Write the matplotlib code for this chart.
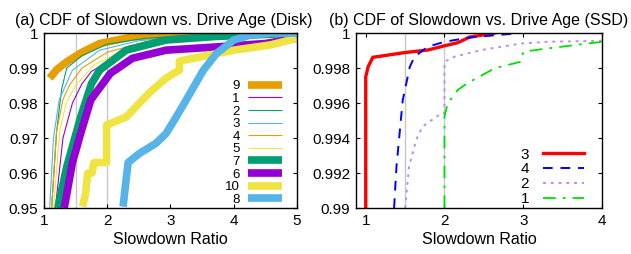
import numpy as np
import matplotlib
matplotlib.use("Agg")
import matplotlib.pyplot as plt

plt.rcParams['font.family'] = ['Liberation Sans', 'DejaVu Sans']

# ---- Disk: slowdown ratio (x) vs CDF (y) ----
disk_labels = ['9', '1', '2', '3', '4', '5', '7', '6', '10', '8']
disk_x = {
    '9': [1.09, 1.2, 1.36, 1.6, 1.88, 2.4, 2.93, 3.6, 4.5, 5.0],
    '1': [1.18, 1.3, 1.45, 1.6, 1.75, 2.2, 2.8, 3.6, 4.5, 5.0],
    '2': [1.12, 1.2, 1.28, 1.36, 1.6, 2.0, 2.6, 3.5, 5.0],
    '3': [1.09, 1.15, 1.24, 1.45, 1.88, 2.5, 3.5, 5.0],
    '4': [1.12, 1.2, 1.3, 1.4, 1.6, 2.0, 2.6, 3.5, 5.0],
    '5': [1.15, 1.25, 1.35, 1.5, 1.8, 2.2, 2.8, 3.6, 5.0],
    '7': [1.22, 1.36, 1.58, 1.75, 1.88, 2.3, 2.93, 3.7, 4.5, 5.0],
    '6': [1.32, 1.45, 1.58, 1.74, 2.05, 2.4, 2.93, 3.7, 4.5, 5.0],
    '10': [1.61, 1.66, 1.69, 1.76, 1.79, 1.99, 1.99, 2.3, 2.51, 2.67, 2.93,
           3.14, 3.14, 3.48, 4.0, 4.58, 5.0],
    '8': [2.25, 2.33, 2.51, 2.77, 2.93, 3.09, 3.31, 3.52, 3.73, 4.0, 4.26,
          4.6, 5.0],
}
disk_y = {
    '9': [0.9871, 0.9895, 0.9918, 0.9945, 0.9970, 0.9989, 0.9995, 0.9998, 0.9999, 1.0],
    '1': [0.950, 0.970, 0.980, 0.9855, 0.989, 0.994, 0.997, 0.9985, 0.9995, 1.0],
    '2': [0.950, 0.972, 0.984, 0.990, 0.9935, 0.9968, 0.9985, 0.9995, 1.0],
    '3': [0.950, 0.970, 0.9809, 0.9894, 0.9951, 0.9978, 0.9993, 1.0],
    '4': [0.950, 0.972, 0.981, 0.985, 0.990, 0.9945, 0.9975, 0.9992, 1.0],
    '5': [0.950, 0.972, 0.980, 0.985, 0.991, 0.9945, 0.9972, 0.999, 1.0],
    '7': [0.950, 0.9618, 0.976, 0.9855, 0.9894, 0.9951, 0.9980, 0.9990, 0.9996, 1.0],
    '6': [0.950, 0.963, 0.9713, 0.9809, 0.9885, 0.9928, 0.9951, 0.9960, 0.9970, 0.9985],
    '10': [0.9504, 0.9543, 0.9599, 0.9600, 0.963, 0.963, 0.9737, 0.976, 0.980,
           0.983, 0.9871, 0.9894, 0.992, 0.9932, 0.9951, 0.9966, 0.9985],
    '8': [0.9504, 0.963, 0.9656, 0.9685, 0.9713, 0.976, 0.9828, 0.9894,
          0.9942, 0.998, 0.9994, 1.0, 1.0],
}
disk_colors = {'9': '#e69f00', '1': '#9400d3', '2': '#009e73', '3': '#56b4e9',
               '4': '#e69f00', '5': '#f0e442', '7': '#009e73', '6': '#9400d3',
               '10': '#f0e442', '8': '#56b4e9'}
disk_thick = ['9', '7', '6', '10', '8']

# ---- SSD ----
ssd_labels = ['3', '4', '2', '1']
ssd_x = {
    '3': [1.0, 1.0, 1.03, 1.09, 1.49, 1.79, 2.0, 2.17, 2.32, 2.64],
    '4': [1.36, 1.39, 1.47, 1.56, 1.62, 1.79, 2.0, 2.33, 2.97],
    '2': [1.5, 1.55, 1.64, 1.72, 1.96, 2.0, 2.0, 2.13, 2.47, 2.97, 3.31, 4.0],
    '1': [2.0, 2.0, 2.04, 2.17, 2.29, 2.64, 2.97, 3.0, 3.31, 4.0],
}
ssd_y = {
    '3': [0.990, 0.99750, 0.99807, 0.99861, 0.99888, 0.99903, 0.99927,
          0.99945, 0.99977, 1.0],
    '4': [0.990, 0.99236, 0.99617, 0.99807, 0.99865, 0.99922, 0.9995,
          0.99975, 1.0],
    '2': [0.990, 0.99236, 0.99389, 0.99465, 0.99541, 0.99541, 0.99836,
          0.99865, 0.99903, 0.9994, 0.9995, 0.99956],
    '1': [0.990, 0.99522, 0.99598, 0.99675, 0.99713, 0.99799, 0.99836,
          0.99893, 0.99912, 0.9995],
}
ssd_styles = {
    '3': dict(color='#ff0000', lw=2.4, ls='-'),
    '4': dict(color='#0000ff', lw=1.4, ls=(0, (5, 4))),
    '2': dict(color='#c08cf0', lw=1.4, ls=(0, (1.5, 2.5))),
    '1': dict(color='#00e000', lw=1.3, ls=(0, (7, 4, 1.5, 4))),
}


def style_axes(ax):
    ax.tick_params(direction='in', top=True, right=True, length=3,
                   labelsize=11, pad=4)
    for s in ax.spines.values():
        s.set_linewidth(1.0)
    for xv in [1.5, 2.0]:
        ax.axvline(xv, color='#c8c8c8', lw=1.0, zorder=0)


fig = plt.figure(figsize=(6.31, 2.54), dpi=100)
ax1 = fig.add_axes([0.0697, 0.181, 0.401, 0.689])
ax2 = fig.add_axes([0.564, 0.181, 0.390, 0.689])

style_axes(ax1)
for lab in disk_labels:
    lw = 5.5 if lab in disk_thick else 0.8
    ax1.plot(disk_x[lab], disk_y[lab], color=disk_colors[lab], lw=lw,
             label=lab, solid_capstyle='butt')
ax1.set_xlim(1, 5)
ax1.set_ylim(0.95, 1.0)
ax1.set_xticks([1, 2, 3, 4, 5])
ax1.set_yticks([0.95, 0.96, 0.97, 0.98, 0.99, 1.0])
ax1.set_yticklabels(['0.95', '0.96', '0.97', '0.98', '0.99', '1'])
ax1.set_xlabel('Slowdown Ratio', fontsize=11.5, labelpad=3)
ax1.set_title('(a) CDF of Slowdown vs. Drive Age (Disk)', fontsize=11.5,
              pad=6, x=0.472)
leg1 = ax1.legend(loc='lower right', bbox_to_anchor=(0.941, 0.012),
                  frameon=False, markerfirst=False, fontsize=9.5,
                  handlelength=2.6, handletextpad=0.6, labelspacing=0.03,
                  borderpad=0, borderaxespad=0)
for t in leg1.get_texts():
    t.set_ha('right')

style_axes(ax2)
for lab in ssd_labels:
    ax2.plot(ssd_x[lab], ssd_y[lab], label=lab, **ssd_styles[lab])
ax2.set_xlim(0.875, 4)
ax2.set_ylim(0.99, 1.0)
ax2.set_xticks([1, 2, 3, 4])
ax2.set_yticks([0.99, 0.992, 0.994, 0.996, 0.998, 1.0])
ax2.set_yticklabels(['0.99', '0.992', '0.994', '0.996', '0.998', '1'])
ax2.set_xlabel('Slowdown Ratio', fontsize=11.5, labelpad=3)
ax2.set_title('(b) CDF of Slowdown vs. Drive Age (SSD)', fontsize=11.5,
              pad=6, x=0.498)
leg2 = ax2.legend(loc='lower right', bbox_to_anchor=(0.927, 0.012),
                  frameon=False, markerfirst=False, fontsize=11,
                  handlelength=2.7, handletextpad=0.9, labelspacing=0.05,
                  borderpad=0, borderaxespad=0)

fig.savefig('out.png', dpi=100)
